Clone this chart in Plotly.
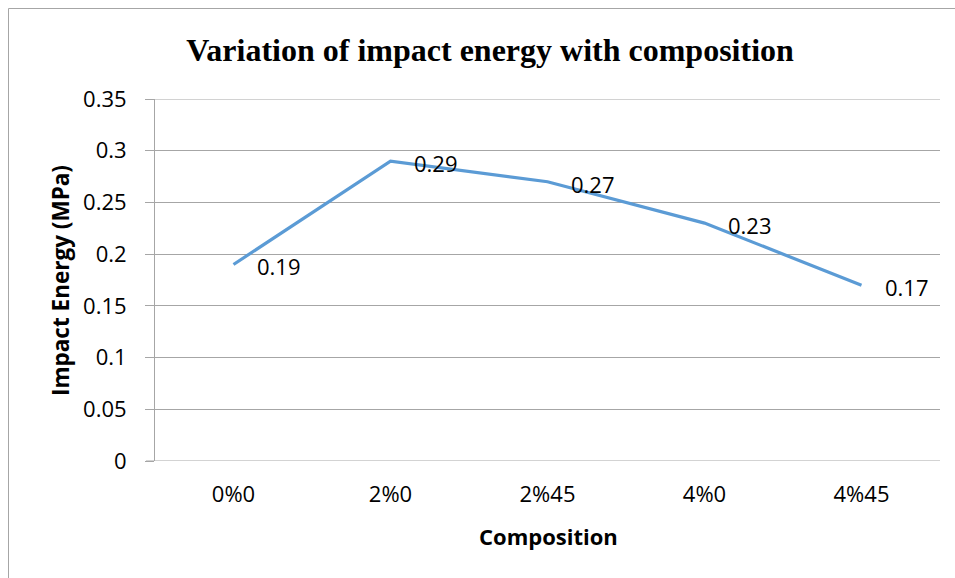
import plotly.graph_objects as go

categories = ["0%0", "2%0", "2%45", "4%0", "4%45"]
impact_energy = [0.19, 0.29, 0.27, 0.23, 0.17]
y_ticks = [0, 0.05, 0.1, 0.15, 0.2, 0.25, 0.3, 0.35]
y_tick_labels = ["0", "0.05", "0.1", "0.15", "0.2", "0.25", "0.3", "0.35"]

W, H = 955, 578
L, R, T, B = 155, 15, 99, 117
PW, PH = W - L - R, H - T - B


def px_x(p):
    return (p - L) / PW


def px_y(p):
    return ((H - B) - p) / PH


fig = go.Figure()
fig.add_trace(go.Scatter(
    x=categories, y=impact_energy, mode="lines",
    line=dict(color="#5B9BD5", width=3.2), hoverinfo="skip", showlegend=False,
))

font_main = "Open Sans, Lato, sans-serif"
FS = 22
annotations = []
for c, v in zip(categories, impact_energy):
    annotations.append(dict(
        x=c, y=v, xref="x", yref="y", text=f"{v:g}", showarrow=False,
        xanchor="left", yanchor="middle", xshift=21, yshift=-2,
        font=dict(family=font_main, size=FS, color="#000000"),
    ))

# axis titles
annotations.append(dict(
    x=px_x(548), y=px_y(536),
    xref="paper", yref="paper", text="<b>Composition</b>", showarrow=False,
    xanchor="center", yanchor="middle",
    font=dict(family=font_main, size=FS, color="#000000"),
))
annotations.append(dict(
    x=px_x(60), y=px_y(281),
    xref="paper", yref="paper", text="<b>Impact Energy (MPa)</b>", showarrow=False,
    xanchor="center", yanchor="middle", textangle=-90,
    font=dict(family=font_main, size=FS + 0.5, color="#000000"),
))

grid_col = "#A6A6A6"
fig.update_layout(
    width=W, height=H,
    margin=dict(l=L, r=R, t=T, b=B),
    paper_bgcolor="white", plot_bgcolor="white",
    title=dict(
        text="<b>Variation of impact energy with composition</b>",
        x=490 / W, xanchor="center", y=1 - 50 / H, yanchor="middle",
        font=dict(family="Liberation Serif, Times New Roman, serif", size=32, color="#000000"),
    ),
    xaxis=dict(
        type="category", range=[-0.5, 4.5], showgrid=False, zeroline=False,
        showline=False, ticks="",
        tickfont=dict(family=font_main, size=FS, color="#000000"),
        ticklabelstandoff=18,
    ),
    yaxis=dict(
        range=[0, 0.35], tickvals=y_ticks, ticktext=y_tick_labels,
        showgrid=True, gridcolor=grid_col, gridwidth=1, zeroline=False,
        showline=True, linecolor=grid_col, linewidth=1,
        ticks="outside", ticklen=9, tickcolor=grid_col,
        tickfont=dict(family=font_main, size=FS, color="#000000"),
        ticklabelstandoff=14,
    ),
    annotations=annotations,
    shapes=[
        # outer frame (left and top edges)
        dict(type="line", xref="paper", yref="paper",
             x0=px_x(8.5), x1=px_x(8.5), y0=px_y(H + 2), y1=px_y(8.5),
             line=dict(color=grid_col, width=1)),
        dict(type="line", xref="paper", yref="paper",
             x0=px_x(8.5), x1=px_x(W + 2), y0=px_y(8.5), y1=px_y(8.5),
             line=dict(color=grid_col, width=1)),
        # top gridline and bottom axis line
        dict(type="line", xref="paper", yref="y",
             x0=0, x1=1, y0=y_ticks[-1], y1=y_ticks[-1],
             line=dict(color=grid_col, width=1)),
        dict(type="line", xref="paper", yref="y",
             x0=px_x(L - 9), x1=1, y0=y_ticks[0], y1=y_ticks[0],
             line=dict(color=grid_col, width=1)),
    ],
)

fig.write_html("out.html")
